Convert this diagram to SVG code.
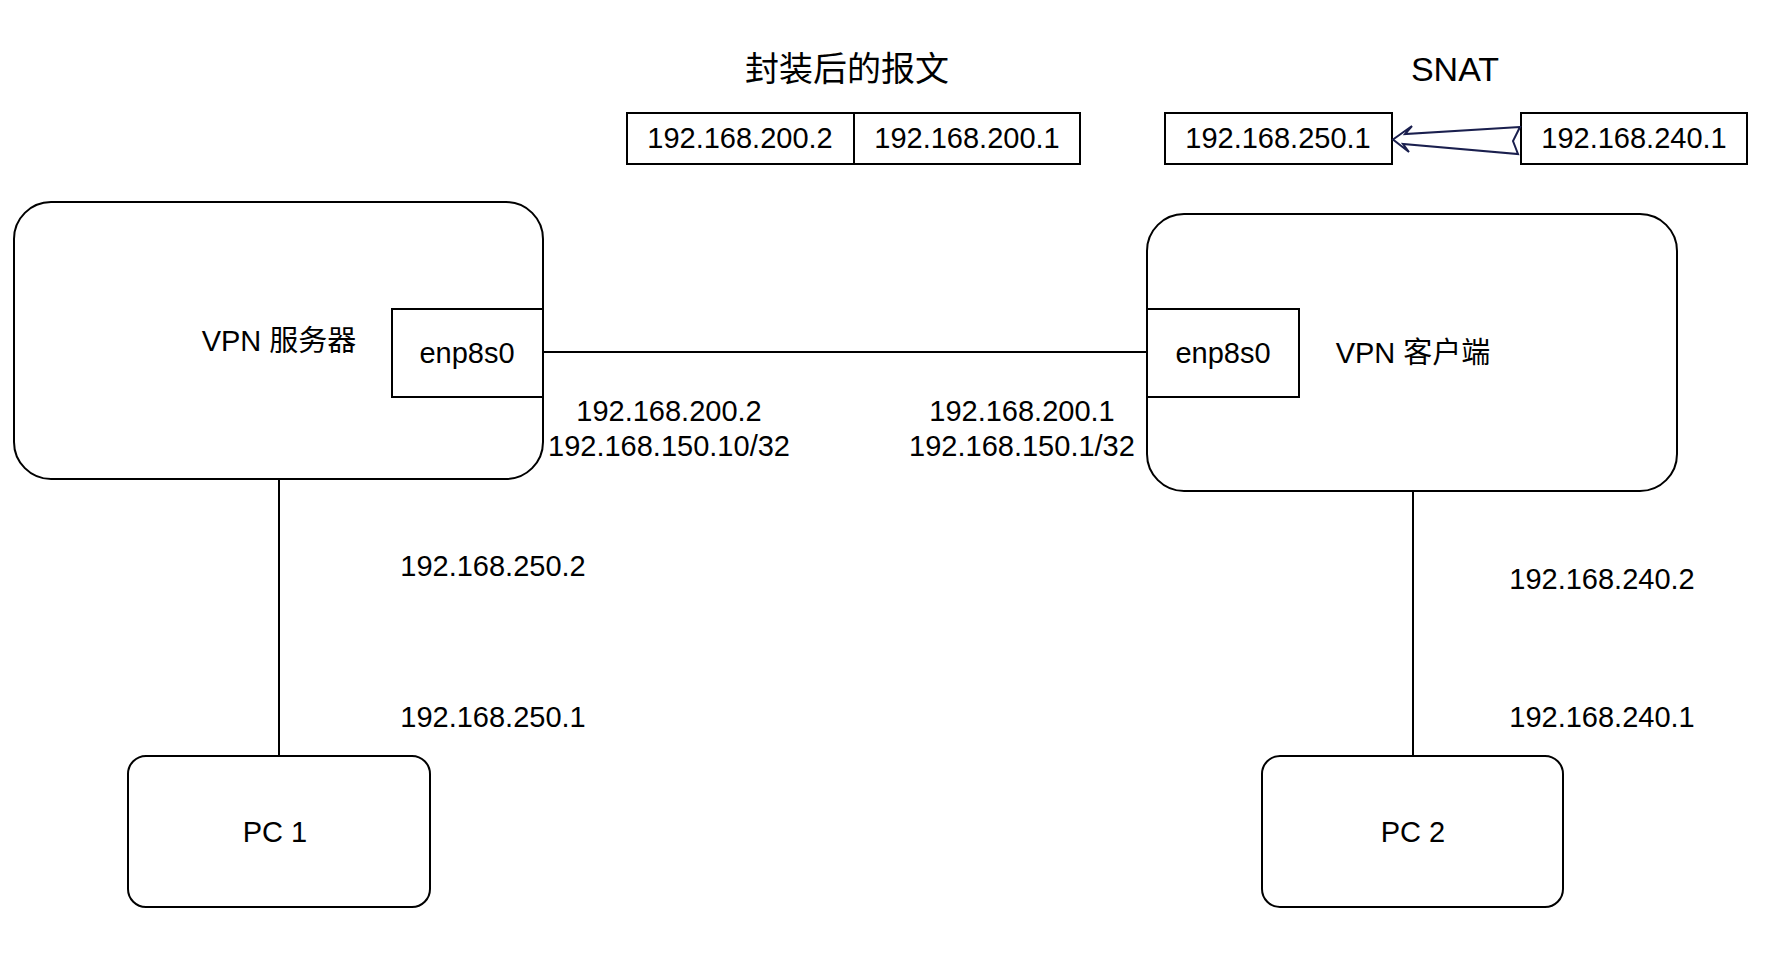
<svg xmlns="http://www.w3.org/2000/svg" width="1774" height="958" viewBox="0 0 1774 958">
  <style>
    .box { fill: #ffffff; stroke: #000000; stroke-width: 2; }
    .wire { fill: none; stroke: #000000; stroke-width: 2; }
    .t { font-family: "Liberation Sans", Arial, "Noto Sans CJK SC", sans-serif; font-size: 29px; fill: #000000; text-anchor: middle; }
    .title { font-family: "Liberation Sans", Arial, "Noto Sans CJK SC", sans-serif; font-size: 34px; fill: #000000; text-anchor: middle; }
    .snat { fill: none; stroke: #1a1f4e; stroke-width: 2; stroke-linejoin: miter; }
  </style>
  <rect width="1774" height="958" fill="#ffffff"/>

  <!-- links between hosts -->
  <g id="connectors">
    <line class="wire" x1="543" y1="352" x2="1147" y2="352"/>
    <line class="wire" x1="279" y1="479" x2="279" y2="756"/>
    <line class="wire" x1="1413" y1="491" x2="1413" y2="756"/>
  </g>

  <!-- VPN server with its interface -->
  <g id="vpn-server">
    <rect class="box" x="14" y="202" width="529" height="277" rx="37" ry="37"/>
    <text class="t" x="279" y="351">VPN 服务器</text>
  </g>
  <g id="server-enp8s0">
    <rect class="box" x="392" y="309" width="151" height="88"/>
    <text class="t" x="467" y="363">enp8s0</text>
  </g>

  <!-- VPN client with its interface -->
  <g id="vpn-client">
    <rect class="box" x="1147" y="214" width="530" height="277" rx="37" ry="37"/>
    <text class="t" x="1413" y="363">VPN 客户端</text>
  </g>
  <g id="client-enp8s0">
    <rect class="box" x="1147" y="309" width="152" height="88"/>
    <text class="t" x="1223" y="363">enp8s0</text>
  </g>

  <!-- end hosts -->
  <g id="pc1">
    <rect class="box" x="128" y="756" width="302" height="151" rx="18" ry="18"/>
    <text class="t" x="275" y="842">PC 1</text>
  </g>
  <g id="pc2">
    <rect class="box" x="1262" y="756" width="301" height="151" rx="18" ry="18"/>
    <text class="t" x="1413" y="842">PC 2</text>
  </g>

  <!-- tunnel addresses -->
  <g id="server-tunnel-addr">
    <text class="t" x="669" y="421">192.168.200.2</text>
    <text class="t" x="669" y="456">192.168.150.10/32</text>
  </g>
  <g id="client-tunnel-addr">
    <text class="t" x="1022" y="421">192.168.200.1</text>
    <text class="t" x="1022" y="456">192.168.150.1/32</text>
  </g>

  <!-- LAN addresses -->
  <g id="lan1-addr">
    <text class="t" x="493" y="576">192.168.250.2</text>
    <text class="t" x="493" y="727">192.168.250.1</text>
  </g>
  <g id="lan2-addr">
    <text class="t" x="1602" y="589">192.168.240.2</text>
    <text class="t" x="1602" y="727">192.168.240.1</text>
  </g>

  <!-- encapsulated packet -->
  <g id="packet">
    <text class="title" x="847" y="81">封装后的报文</text>
    <rect class="box" x="627" y="113" width="227" height="51"/>
    <text class="t" x="740" y="148">192.168.200.2</text>
    <rect class="box" x="854" y="113" width="226" height="51"/>
    <text class="t" x="967" y="148">192.168.200.1</text>
  </g>

  <!-- source NAT -->
  <g id="snat">
    <text class="title" x="1455" y="81">SNAT</text>
    <rect class="box" x="1165" y="113" width="227" height="51"/>
    <text class="t" x="1278" y="148">192.168.250.1</text>
    <rect class="box" x="1521" y="113" width="226" height="51"/>
    <text class="t" x="1634" y="148">192.168.240.1</text>
  </g>
  <g id="snat-arrow">
    <path class="snat" d="M1520,127 L1405,134 L1412,126 L1393,139.5 L1409,152 L1403,144 L1518,154 L1513,141 Z"/>
  </g>
</svg>
